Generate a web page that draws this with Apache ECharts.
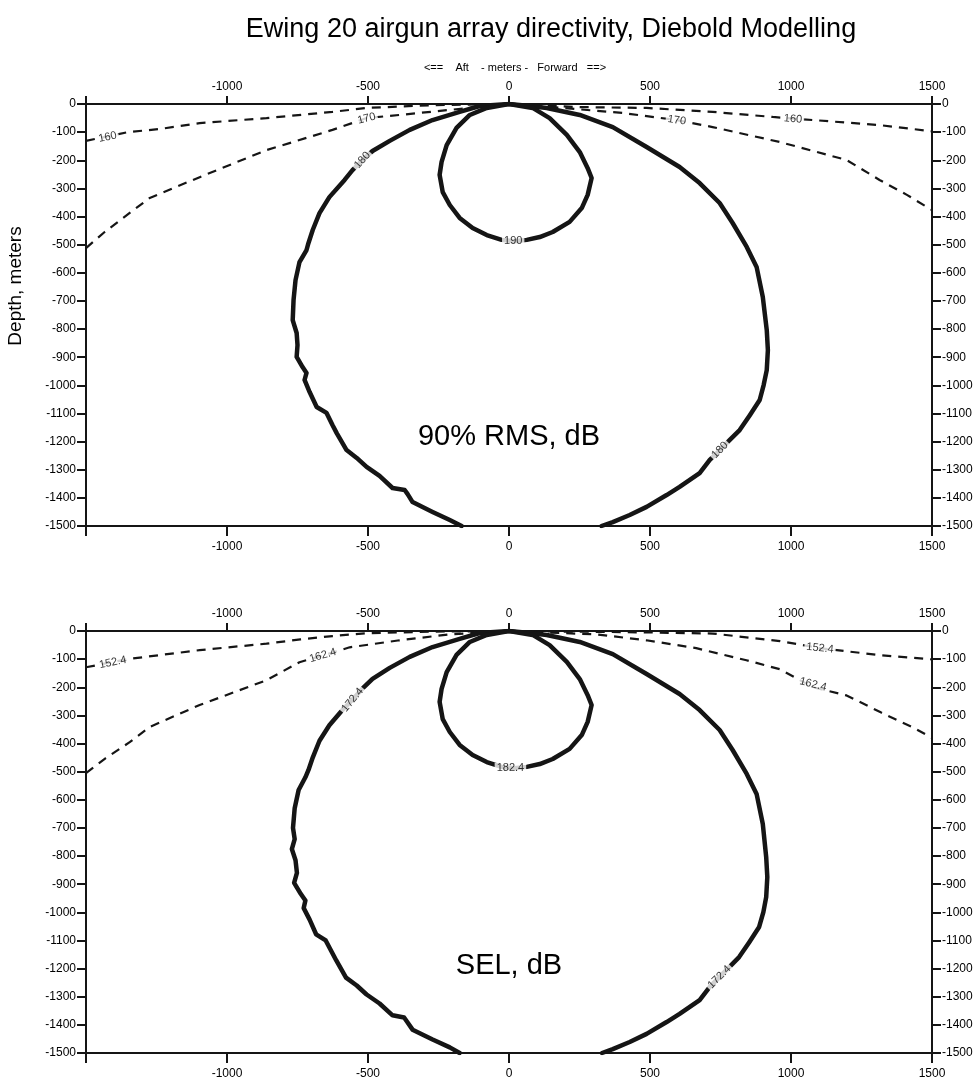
<!DOCTYPE html>
<html>
<head>
<meta charset="utf-8">
<script src="https://cdn.jsdelivr.net/npm/echarts@6/dist/echarts.min.js"></script>
<style>
html,body{margin:0;padding:0;background:#fff;}
#chart{width:980px;height:1083px;}
</style>
</head>
<body>
<div id="chart"></div>
<script>
// ---------- DATA (x: meters aft(-)/forward(+), y: depth in meters, negative down) ----------
const xTickValues = [-1500, -1000, -500, 0, 500, 1000, 1500];
const yTickValues = [0, -100, -200, -300, -400, -500, -600, -700, -800, -900, -1000, -1100, -1200, -1300, -1400, -1500];

// Top panel: 90% RMS, dB
const rms160 = [[-1500,-131],[-1352,-100],[-1239,-89],[-1097,-68],[-860,-50],[-626,-28],[-505,-14],[-271,-4],[0,0],
  [250,-11],[488,-14],[722,-28],[935,-46],[1077,-57],[1314,-75],[1500,-97]];
const rms170 = [[-1500,-512],[-1434,-455],[-1345,-387],[-1274,-334],[-1097,-260],[-860,-164],[-626,-92],[-505,-50],[-388,-39],[-210,-21],[0,0],
  [190,-14],[403,-32],[594,-57],[722,-82],[960,-135],[1197,-199],[1314,-270],[1411,-323],[1500,-377]];
const rms180Aft = [[0,0],[-104,-7],[-175,-28],[-271,-57],[-352,-92],[-423,-131],[-484,-167],[-520,-200],[-555,-235],[-583,-270],[-637,-331],[-672,-388],
  [-696,-448],[-711,-494],[-718,-519],[-743,-562],[-757,-626],[-764,-697],[-767,-768],[-753,-814],[-750,-857],[-753,-899],[-732,-935],
  [-718,-956],[-725,-981],[-707,-1024],[-682,-1077],[-647,-1098],[-626,-1141],[-611,-1170],[-576,-1230],[-540,-1258],[-505,-1290],
  [-459,-1322],[-413,-1365],[-370,-1372],[-360,-1386],[-342,-1415],[-271,-1450],[-210,-1479],[-168,-1500]];
const rms180Fwd = [[0,0],[73,-7],[134,-14],[251,-39],[368,-82],[488,-153],[605,-224],[676,-281],[747,-352],[793,-423],[843,-508],[878,-579],
  [900,-686],[914,-803],[918,-875],[914,-946],[903,-999],[889,-1052],[854,-1106],[818,-1159],[783,-1194],[748,-1230],[712,-1265],
  [676,-1312],[605,-1361],[559,-1390],[488,-1432],[428,-1461],[368,-1486],[328,-1500]];
const rms190 = [[0,0],[-79,-14],[-139,-39],[-186,-85],[-221,-146],[-239,-206],[-246,-252],[-235,-313],[-210,-359],[-175,-405],[-129,-441],
  [-79,-466],[-26,-483],[18,-488],[63,-483],[109,-473],[155,-455],[215,-419],[258,-370],[279,-323],[293,-263],[279,-228],[251,-171],
  [205,-110],[144,-50],[84,-14],[0,0]];
const rmsLabels = [
  {text:'160', x:-1423, y:-118, rot:12},
  {text:'160', x:1007,  y:-53,  rot:-5},
  {text:'170', x:-505,  y:-52,  rot:14},
  {text:'170', x:595,   y:-58,  rot:-8},
  {text:'180', x:-520,  y:-200, rot:48},
  {text:'180', x:748,   y:-1230,rot:45},
  {text:'190', x:15,    y:-488, rot:0}
];

// Bottom panel: SEL, dB
const sel152 = [[-1500,-129],[-1353,-100],[-1097,-68],[-860,-45],[-740,-30],[-626,-18],[-505,-8],[-271,-2],[0,0],
  [310,-3],[487,-5],[723,-9],[961,-36],[1103,-61],[1316,-86],[1500,-101]];
const sel162 = [[-1500,-505],[-1430,-452],[-1345,-395],[-1274,-341],[-1097,-263],[-860,-175],[-743,-111],[-660,-87],[-565,-58],[-388,-33],[-210,-12],[0,0],
  [310,-12],[487,-33],[664,-61],[842,-104],[961,-136],[1078,-200],[1197,-229],[1320,-290],[1431,-342],[1500,-380]];
const sel172Aft = [[0,0],[-104,-7],[-175,-28],[-271,-57],[-352,-92],[-423,-131],[-484,-170],[-520,-205],[-558,-247],[-590,-280],[-637,-335],[-672,-390],
  [-696,-450],[-711,-494],[-722,-520],[-746,-565],[-760,-630],[-766,-700],[-760,-740],[-770,-775],[-757,-815],[-752,-860],[-762,-895],[-738,-935],
  [-722,-958],[-728,-985],[-707,-1026],[-684,-1078],[-650,-1100],[-628,-1142],[-612,-1172],[-578,-1232],[-540,-1260],[-505,-1292],
  [-459,-1324],[-413,-1366],[-372,-1374],[-362,-1388],[-342,-1417],[-271,-1452],[-210,-1480],[-175,-1500]];
const sel172Fwd = [[0,0],[73,-7],[134,-14],[251,-39],[368,-82],[488,-153],[605,-224],[676,-281],[747,-352],[793,-423],[843,-508],[878,-579],
  [900,-686],[912,-803],[916,-875],[912,-946],[902,-999],[887,-1052],[852,-1106],[816,-1159],[782,-1194],[746,-1230],[712,-1265],
  [676,-1312],[605,-1361],[559,-1390],[488,-1432],[428,-1461],[368,-1486],[330,-1500]];
const sel182 = [[0,0],[-79,-14],[-139,-39],[-186,-85],[-221,-146],[-239,-206],[-246,-252],[-235,-313],[-210,-359],[-175,-405],[-129,-441],
  [-79,-466],[-26,-483],[18,-488],[63,-483],[109,-473],[155,-455],[215,-419],[258,-370],[279,-323],[293,-263],[279,-228],[251,-171],
  [205,-110],[144,-50],[84,-14],[0,0]];
const selLabels = [
  {text:'152.4', x:-1405, y:-112, rot:12},
  {text:'152.4', x:1103,  y:-61,  rot:-6},
  {text:'162.4', x:-660,  y:-87,  rot:16},
  {text:'162.4', x:1078,  y:-190, rot:-14},
  {text:'172.4', x:-555,  y:-245, rot:50},
  {text:'172.4', x:746,   y:-1230,rot:45},
  {text:'182.4', x:5,     y:-488, rot:0}
];

// ---------- STYLE / LAYOUT ----------
const INK = '#151515';
const FONT = 'Liberation Sans, Arial, sans-serif';
const grids = [
  {left:86, right:48, top:104, height:422},
  {left:86, right:48, top:631, height:422}
];

function xAxisDef(gridIndex, position){
  const top = position === 'top';
  return {
    type:'value', gridIndex, position, min:-1500, max:1500, interval:500,
    axisLine:{show:true, onZero:false, lineStyle:{color:INK, width:2}},
    axisTick:{show:true, length: top?8:10, lineStyle:{color:INK, width:2}},
    axisLabel:{show:true, color:'#000', fontSize:12, fontFamily:FONT, margin: top?11:15,
      formatter:(v)=> v===-1500 ? '' : String(v)},
    splitLine:{show:false}
  };
}
function yAxisDef(gridIndex, position){
  return {
    type:'value', gridIndex, position, min:-1500, max:0, interval:100,
    axisLine:{show:true, onZero:false, lineStyle:{color:INK, width:2}},
    axisTick:{show:true, length:9, lineStyle:{color:INK, width:2}},
    axisLabel:{show:true, color:'#000', fontSize:12, fontFamily:FONT, margin:10,
      formatter:(v)=> String(v)},
    splitLine:{show:false}
  };
}

function solid(data, xi, yi){
  return {type:'line', xAxisIndex:xi, yAxisIndex:yi, data, showSymbol:false, symbol:'none', silent:true,
    lineStyle:{color:INK, width:4.5, cap:'round', join:'round'}, z:3};
}
function dashed(data, xi, yi){
  return {type:'line', xAxisIndex:xi, yAxisIndex:yi, data, showSymbol:false, symbol:'none', silent:true,
    lineStyle:{color:INK, width:2.2, type:[9,7]}, z:2};
}
function labels(list, xi, yi){
  return {type:'scatter', xAxisIndex:xi, yAxisIndex:yi, symbolSize:0, silent:true, z:10,
    data: list.map(l => ({value:[l.x, l.y], name:l.text, label:{rotate:l.rot}})),
    label:{show:true, position:'inside', formatter:(p)=>p.name, color:'#000', fontSize:11, fontFamily:FONT,
      backgroundColor:'#fff', padding:[0,2]}};
}

const option = {
  animation:false,
  backgroundColor:'#fff',
  grid: grids,
  xAxis: [xAxisDef(0,'bottom'), xAxisDef(0,'top'), xAxisDef(1,'bottom'), xAxisDef(1,'top')],
  yAxis: [yAxisDef(0,'left'), yAxisDef(0,'right'), yAxisDef(1,'left'), yAxisDef(1,'right')],
  series: [
    dashed(rms160,0,0), dashed(rms170,0,0),
    solid(rms180Aft,0,0), solid(rms180Fwd,0,0), solid(rms190,0,0),
    labels(rmsLabels,0,0),
    dashed(sel152,2,2), dashed(sel162,2,2),
    solid(sel172Aft,2,2), solid(sel172Fwd,2,2), solid(sel182,2,2),
    labels(selLabels,2,2)
  ],
  graphic: [
    {type:'text', x:551, y:30, style:{text:'Ewing 20 airgun array directivity, Diebold Modelling',
      fill:'#000', font:'27px '+FONT, textAlign:'center', textVerticalAlign:'middle'}},
    {type:'text', x:515, y:68, style:{text:'<==    Aft    - meters -   Forward   ==>',
      fill:'#000', font:'11px '+FONT, textAlign:'center', textVerticalAlign:'middle'}},
    {type:'text', x:16, y:286, rotation:Math.PI/2, style:{text:'Depth, meters',
      fill:'#000', font:'19px '+FONT, textAlign:'center', textVerticalAlign:'middle'}},
    {type:'text', x:509, y:437, style:{text:'90% RMS, dB',
      fill:'#000', font:'29px '+FONT, textAlign:'center', textVerticalAlign:'middle'}},
    {type:'text', x:509, y:966, style:{text:'SEL, dB',
      fill:'#000', font:'29px '+FONT, textAlign:'center', textVerticalAlign:'middle'}}
  ]
};

const chart = echarts.init(document.getElementById('chart'), null, {renderer:'canvas'});
chart.setOption(option);
</script>
</body>
</html>
